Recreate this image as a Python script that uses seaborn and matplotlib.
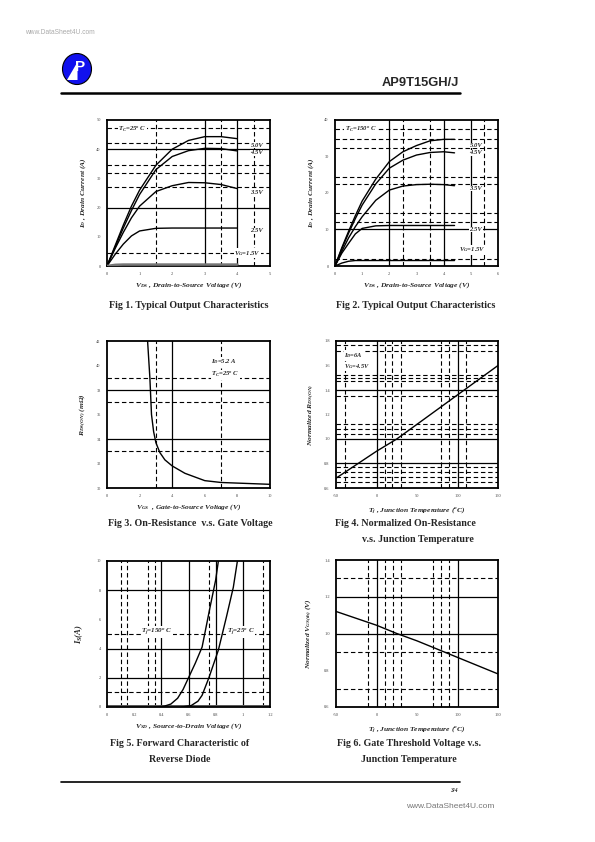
import numpy as np
import pandas as pd
import matplotlib
matplotlib.use("Agg")
import matplotlib.pyplot as plt
from matplotlib.patches import Ellipse, Polygon
from matplotlib.lines import Line2D
import seaborn as sns

sns.set_style("white")
plt.rcParams["font.family"] = ["Liberation Serif", "DejaVu Serif"]
plt.rcParams["mathtext.fontset"] = "custom"
plt.rcParams["mathtext.rm"] = "Liberation Serif:bold:italic"
plt.rcParams["mathtext.it"] = "Liberation Serif:bold:italic"
plt.rcParams["mathtext.bf"] = "Liberation Serif:bold:italic"

# ---------------- data ----------------
# Fig 1 (Tc = 25 C)
vds1 = [0, 0.25, 0.5, 0.75, 1, 1.5, 2, 2.5, 3, 3.5, 4]
id1_50 = [0, 7, 14, 20.5, 26, 34.5, 40, 43, 44.3, 44.3, 43.6]
id1_45 = [0, 6.5, 13, 19, 24.5, 33, 37.5, 39.5, 40.3, 40.2, 39.4]
id1_35 = [0, 6, 11.5, 16.5, 20.5, 25.5, 27.5, 28.6, 28.5, 27.9, 26.5]
id1_25 = [0, 4, 7.5, 10.3, 12, 12.9, 13, 13, 13, 13, 13]
id1_15 = [0, 0.4, 0.5, 0.5, 0.5, 0.5, 0.5, 0.5, 0.5, 0.5, 0.5]

# Fig 2 (Tc = 150 C)
vds2 = [0, 0.25, 0.5, 0.75, 1, 1.5, 2, 2.5, 3, 3.5, 4, 4.4]
id2_50 = [0, 5, 9.5, 13.8, 17.8, 23.8, 28.6, 31.3, 33, 34.3, 34.7, 34.7]
id2_45 = [0, 4.7, 9, 13, 16.7, 22.5, 26.8, 29, 30.4, 31.1, 31.3, 31]
id2_35 = [0, 4, 7.7, 10.8, 13.5, 18, 20.8, 21.9, 22.3, 22.4, 22.3, 22]
id2_25 = [0, 3.5, 6.2, 8.8, 10.3, 11, 11.1, 11.1, 11.1, 11.1, 11.1, 11.1]
id2_15 = [0, 0.8, 1.3, 1.5, 1.5, 1.5, 1.5, 1.5, 1.5, 1.5, 1.5, 1.5]

# Fig 3 on-resistance vs VGS
vgs3 = [2.49, 2.63, 2.73, 2.86, 3.0, 3.24, 3.55, 4.0, 4.78, 6.0, 7.0, 8.0, 10.0]
rds3 = [42.0, 39.0, 36.0, 34.6, 33.7, 32.9, 32.3, 31.8, 31.2, 30.6, 30.45, 30.4, 30.3]
yticks3 = [30, 32, 34, 36, 38, 40, 42]

# Fig 4 normalized Rds(on) vs Tj
tj4 = [-50, 0, 25, 50, 100, 150]
rn4 = [0.68, 0.90, 1.0, 1.12, 1.36, 1.60]

# Fig 5 reverse diode
vsd5_150 = [0.35, 0.42, 0.47, 0.52, 0.56, 0.6, 0.65, 0.7, 0.76, 0.8, 0.82]
is5_150 = [0.0, 0.05, 0.2, 0.6, 1.2, 2.0, 3.0, 4.1, 6.9, 8.7, 10.0]
vsd5_25 = [0.55, 0.62, 0.67, 0.7, 0.75, 0.82, 0.88, 0.93, 0.96]
is5_25 = [0.0, 0.1, 0.4, 0.8, 2.0, 3.9, 6.2, 8.2, 10.0]

# Fig 6 normalized Vgs(th) vs Tj
tj6 = [-50, 0, 25, 50, 100, 150]
vn6 = [1.12, 1.045, 1.0, 0.96, 0.87, 0.78]

W, H = 595, 842
fig = plt.figure(figsize=(W / 100, H / 100), dpi=100)


def px(x, y):
    return x / W, 1 - y / H


def ax_at(l, t, r, b):
    return fig.add_axes([l / W, 1 - b / H, (r - l) / W, (b - t) / H])


TICKFS = 3.2
LABFS = 5.4
LBL = dict(fontsize=LABFS, fontweight="bold", fontstyle="italic")


def style(ax, xlim, ylim, xticks, yticks, hsolid, hdash, vsolid, vdash, xfmt, yfmt):
    ax.set_xlim(*xlim)
    ax.set_ylim(*ylim)
    for v in hsolid:
        ax.axhline(v, color="black", lw=0.9, zorder=1)
    for v in hdash:
        ax.axhline(v, color="black", lw=0.8, ls=(0, (4, 2.5)), zorder=1)
    for v in vsolid:
        ax.axvline(v, color="black", lw=0.9, zorder=1)
    for v in vdash:
        ax.axvline(v, color="black", lw=0.8, ls=(0, (4, 2.5)), zorder=1)
    ax.set_xticks(xticks)
    ax.set_yticks(yticks)
    ax.set_xticklabels([xfmt.format(t) for t in xticks], fontsize=TICKFS, color="#444444")
    ax.set_yticklabels([yfmt.format(t) for t in yticks], fontsize=TICKFS, color="#444444")
    ax.tick_params(length=1.5, width=0.5, pad=3, direction="out")
    for s in ax.spines.values():
        s.set_linewidth(1.3)
        s.set_color("black")
    ax.grid(False)
    ax.set_facecolor("white")


def curve(ax, x, y, color="black", lw=1.0):
    df = pd.DataFrame({"x": x, "y": y})
    sns.lineplot(data=df, x="x", y="y", ax=ax, color=color, lw=lw, zorder=3, sort=False)
    ax.set_xlabel("")
    ax.set_ylabel("")


def ann(ax, x, y, s, fs=4.8, **kw):
    ax.text(x, y, s, fontsize=fs, fontweight="bold", fontstyle="italic", zorder=4,
            bbox=dict(facecolor="white", edgecolor="none", pad=0.3), **kw)


# ---------------- Fig 1 ----------------
ax1 = ax_at(107, 120, 270, 266)
style(ax1, (0, 5), (0, 50), [0, 1, 2, 3, 4, 5], [0, 10, 20, 30, 40, 50],
      [40, 20], [47.4, 42, 34.6, 32, 27, 4.3], [3, 4], [1.5, 3.5, 4.5], "{:g}", "{:g}")
for yy in [id1_50, id1_45, id1_35, id1_25]:
    curve(ax1, vds1, yy)
curve(ax1, vds1, id1_15, color="#777777", lw=1.8)
ann(ax1, 0.35, 46.2, r"$T_C$=25$^o$ C", fs=4.8)
ann(ax1, 4.4, 40.9, "5.0V")
ann(ax1, 4.4, 38.2, "4.5V")
ann(ax1, 4.4, 24.8, "3.5V")
ann(ax1, 4.4, 11.5, "2.5V")
ann(ax1, 3.9, 3.9, r"$V_G$=1.5V")
ax1.set_xlabel(r"$V_{DS}$ , Drain-to-Source Voltage (V)", labelpad=3, **LBL)
ax1.set_ylabel(r"$I_D$ , Drain Current (A)", labelpad=6, **LBL)

# ---------------- Fig 2 ----------------
ax2 = ax_at(335, 120, 498, 266)
style(ax2, (0, 6), (0, 40), [0, 1, 2, 3, 4, 5, 6], [0, 10, 20, 30, 40],
      [10], [37.4, 34.7, 32.2, 24.5, 22.5, 14.6, 12.1, 1.8], [2, 4, 5], [2.5, 3.5, 5.5], "{:g}", "{:g}")
for yy in [id2_50, id2_45, id2_35, id2_25, id2_15]:
    curve(ax2, vds2, yy)
ann(ax2, 0.35, 37.0, r"$T_C$=150$^o$ C", fs=4.8)
ann(ax2, 4.95, 32.6, "5.0V")
ann(ax2, 4.95, 30.6, "4.5V")
ann(ax2, 4.95, 20.8, "3.5V")
ann(ax2, 4.95, 9.6, "2.5V")
ann(ax2, 4.55, 4.0, r"$V_G$=1.5V")
ax2.set_xlabel(r"$V_{DS}$ , Drain-to-Source Voltage (V)", labelpad=3, **LBL)
ax2.set_ylabel(r"$I_D$ , Drain Current (A)", labelpad=6, **LBL)

# ---------------- Fig 3 ----------------
ax3 = ax_at(107, 341, 270, 488)
style(ax3, (0, 10), (30, 42), [0, 2, 4, 6, 8, 10], yticks3,
      [38, 34], [39, 37, 33], [4], [3, 7], "{:g}", "{:g}")
curve(ax3, vgs3, rds3)
ann(ax3, 6.4, 40.2, r"$I_D$=5.2 A", fs=4.8)
ann(ax3, 6.4, 39.1, r"$T_C$=25$^o$ C", fs=4.8)
ax3.set_xlabel(r"$V_{GS}$  , Gate-to-Source Voltage (V)", labelpad=3, **LBL)
ax3.set_ylabel(r"$R_{DS(ON)}$ (m$\Omega$)", labelpad=6, **LBL)

# ---------------- Fig 4 ----------------
ax4 = ax_at(336, 341, 498, 488)
style(ax4, (-50, 150), (0.6, 1.8), [-50, 0, 50, 100, 150], [0.6, 0.8, 1.0, 1.2, 1.4, 1.6, 1.8],
      [1.4, 1.0, 0.8], [1.77, 1.72, 1.52, 1.5, 1.47, 1.35, 1.12, 1.08, 1.04, 0.77, 0.73, 0.69, 0.65],
      [0, 100], [-39, 10, 19, 30, 80, 90, 110], "{:g}", "{:.1f}")
curve(ax4, tj4, rn4)
ann(ax4, -40, 1.67, r"$I_D$=6A", fs=4.6)
ann(ax4, -40, 1.58, r"$V_G$=4.5V", fs=4.6)
ax4.set_xlabel(r"$T_j$ , Junction Temperature ($^o$C)", labelpad=5, **LBL)
ax4.set_ylabel(r"Normalized $R_{DS(ON)}$", labelpad=6, **LBL)

# ---------------- Fig 5 ----------------
ax5 = ax_at(107, 561, 270, 707)
style(ax5, (0, 1.2), (0, 10), [0, 0.2, 0.4, 0.6, 0.8, 1.0, 1.2], [0, 2, 4, 6, 8, 10],
      [8, 4, 2], [5, 1], [0.4, 0.6, 0.8, 1.0], [0.1, 0.15, 0.3, 0.35, 0.75, 1.15], "{:g}", "{:g}")
curve(ax5, vsd5_150, is5_150)
curve(ax5, vsd5_25, is5_25)
ax5.axhline(0.04, color="#555555", lw=1.4, zorder=2)
ann(ax5, 0.25, 5.05, r"$T_j$=150$^o$ C", fs=5.0)
ann(ax5, 0.88, 5.05, r"$T_j$=25$^o$ C", fs=5.0)
ax5.set_xlabel(r"$V_{SD}$ , Source-to-Drain Voltage (V)", labelpad=3, **LBL)
ax5.set_ylabel(r"$I_S$(A)", labelpad=8, fontsize=LABFS + 0.8, fontweight="bold", fontstyle="italic")

# ---------------- Fig 6 ----------------
ax6 = ax_at(336, 560, 498, 707)
style(ax6, (-50, 150), (0.6, 1.4), [-50, 0, 50, 100, 150], [0.6, 0.8, 1.0, 1.2, 1.4],
      [1.2, 1.0], [1.3, 0.9, 0.7], [0, 100], [-10, 10, 20, 30, 70, 80, 90], "{:g}", "{:.1f}")
curve(ax6, tj6, vn6)
ax6.set_xlabel(r"$T_j$ , Junction Temperature ($^o$C)", labelpad=5, **LBL)
ax6.set_ylabel(r"Normalized $V_{GS(th)}$ (V)", labelpad=7, **LBL)

# ---------------- captions ----------------
CAPFS = 7.2


def cap(x, y, s, ha="center"):
    fig.text(*px(x, y), s, fontsize=CAPFS, fontweight="bold", ha=ha, va="center",
             family=["Liberation Serif"])


cap(189, 305, "Fig 1. Typical Output Characteristics")
cap(416, 305, "Fig 2. Typical Output Characteristics")
cap(190, 524, "Fig 3. On-Resistance  v.s. Gate Voltage")
cap(335, 524, "Fig 4. Normalized On-Resistance", ha="left")
cap(362, 540, "v.s. Junction Temperature", ha="left")
cap(180, 744, "Fig 5. Forward Characteristic of")
cap(180, 759, "Reverse Diode")
cap(409, 744, "Fig 6. Gate Threshold Voltage v.s.")
cap(409, 759, "Junction Temperature")

# ---------------- header / footer ----------------
fig.text(*px(25, 32), "www.DataSheet4U.com", fontsize=4.8, color="#aaaaaa",
         family=["Liberation Sans"], va="center")
fig.text(*px(459, 83), "AP9T15GH/J", fontsize=9.3, fontweight="bold", ha="right",
         va="center", family=["Liberation Sans"])
fig.add_artist(Line2D([61 / W, 460 / W], [1 - 92.5 / H, 1 - 92.5 / H], color="black", lw=1.8))
fig.add_artist(Line2D([61 / W, 460 / W], [1 - 782 / H, 1 - 782 / H], color="black", lw=1.2))
fig.text(*px(458, 790), "3/4", fontsize=4.2, fontstyle="italic", fontweight="bold",
         ha="right", va="center")
fig.text(*px(494, 806), "www.DataSheet4U.com", fontsize=6.0, color="#777777",
         family=["Liberation Sans"], ha="right", va="center")

# logo
cx, cy = px(77, 69)
fig.add_artist(Ellipse((cx, cy), 29 / W, 31 / H, facecolor="#1111ee", edgecolor="black", lw=0.8))
fig.add_artist(Polygon([px(67, 80), px(77.5, 62), px(77.5, 80)], closed=True,
                       facecolor="white", edgecolor="none"))
fig.text(*px(80.5, 67), "P", fontsize=11, fontweight="bold", color="white",
         ha="center", va="center", family=["Liberation Sans"])

fig.savefig("out.png", dpi=100)
